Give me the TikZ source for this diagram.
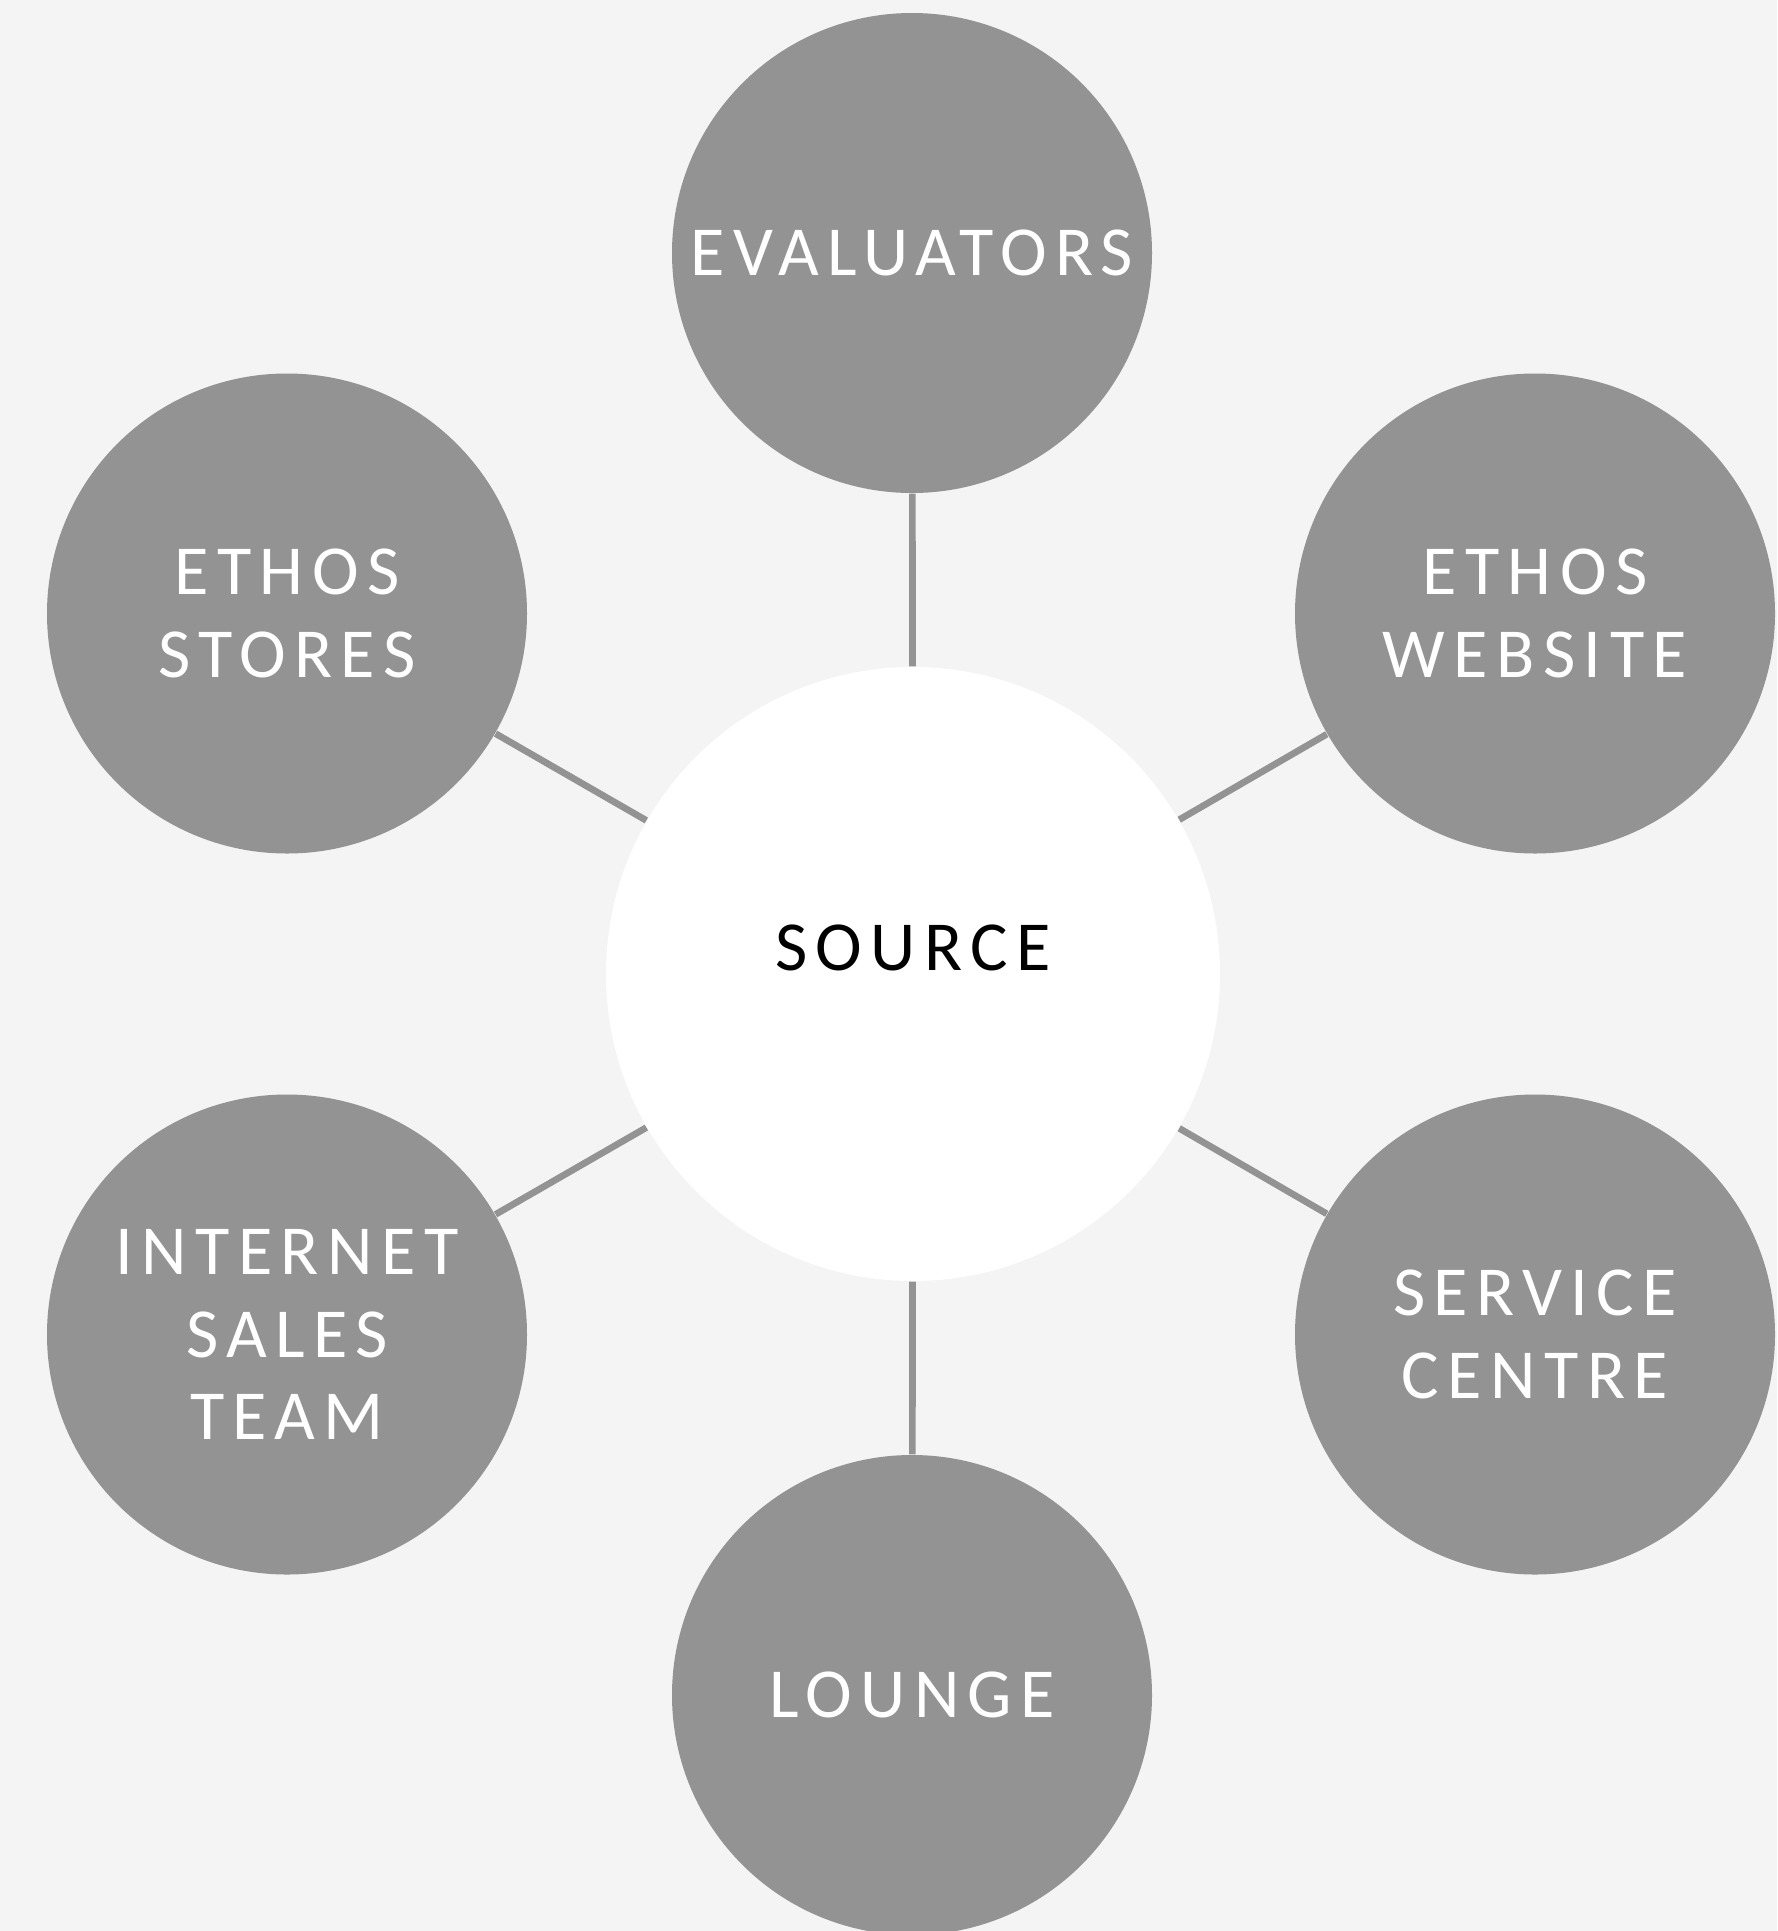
\documentclass[tikz,border=0pt]{standalone}
\usepackage{fontspec}
\usepackage{tikz}
\newfontfamily\labelfont{Carlito}[LetterSpace=12]
\definecolor{bggray}{HTML}{F4F4F4}
\definecolor{discgray}{HTML}{939393}

\begin{document}
\begin{tikzpicture}[
  disc/.style={circle,fill=discgray,minimum size=4.8cm,inner sep=0pt,
    text=white,align=center,font=\labelfont\fontsize{20}{23.5}\selectfont},
  hub/.style={circle,fill=white,minimum size=6.14cm,inner sep=0pt},
  spoke/.style={draw=discgray,line width=1.9pt}]
  \fill[bggray] (0,0) rectangle (17.77,-19.31);
  \useasboundingbox (0,0) rectangle (17.77,-19.31);

  \node[hub,label={[font=\labelfont\fontsize{20}{23.5}\selectfont,yshift=0.26cm]center:SOURCE}] (src) at (9.13,-9.74) {};
  \node[disc] (eval) at (9.12,-2.53) {EVALUATORS};
  \node[disc] (store) at (2.87,-6.135) {ETHOS\\STORES};
  \node[disc] (web) at (15.35,-6.135) {ETHOS\\WEBSITE};
  \node[disc] (net) at (2.87,-13.345) {INTERNET\\SALES\\TEAM};
  \node[disc] (serv) at (15.35,-13.345) {SERVICE\\CENTRE};
  \node[disc] (lounge) at (9.12,-16.95) {LOUNGE};

  \draw[spoke] (src) -- (eval);
  \draw[spoke] (src) -- (store);
  \draw[spoke] (src) -- (web);
  \draw[spoke] (src) -- (net);
  \draw[spoke] (src) -- (serv);
  \draw[spoke] (src) -- (lounge);
\end{tikzpicture}
\end{document}
